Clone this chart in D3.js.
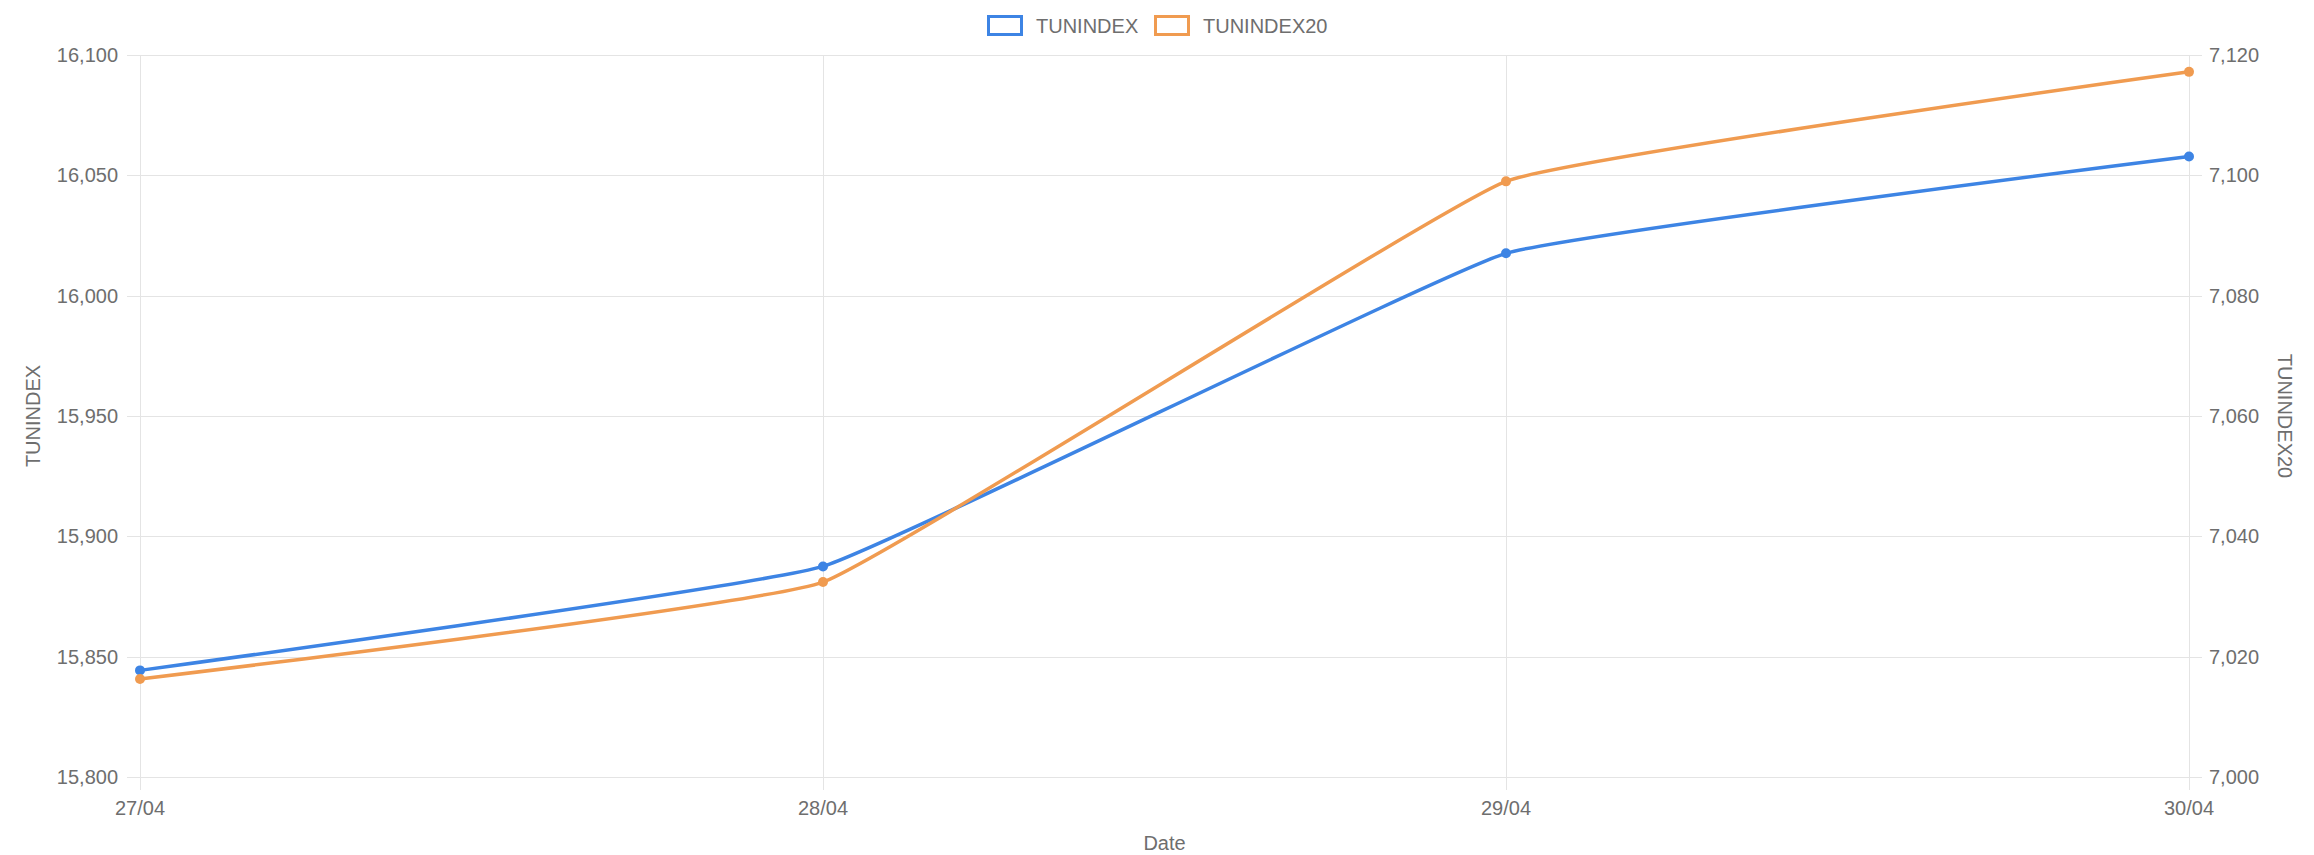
<!DOCTYPE html>
<html>
<head>
<meta charset="utf-8">
<script src="https://cdn.jsdelivr.net/npm/d3@7"></script>
<style>
	body { margin: 0; background: #fff; }
	svg { display: block; font-family: "Liberation Sans", Arial, sans-serif; }
</style>
</head>
<body>
<div id="chart"></div>
<script>
/* dual axis line chart, TUNINDEX vs TUNINDEX20 */

const dates = ["27/04", "28/04", "29/04", "30/04"]
const tunindex = [15844.3, 15887.5, 16017.6, 16057.8]
const tunindex20 = [7016.3, 7032.4, 7099.0, 7117.2]
const leftTicks = [15800, 15850, 15900, 15950, 16000, 16050, 16100]
const rightTicks = [7000, 7020, 7040, 7060, 7080, 7100, 7120]

const width = 2314, height = 855
const margin = {top: 55, right: 125, bottom: 78, left: 140}
const blue = "#3d84e4", orange = "#f09b50"
const grid = "#e4e4e4", txt = "#6e6e6e"

let svg = d3.select("#chart").append("svg")
	.attr("width", width)
	.attr("height", height)

let x = d3.scalePoint()
	.domain(dates)
	.range([margin.left, width - margin.right])

let yL = d3.scaleLinear()
	.domain([15800, 16100])
	.range([height - margin.bottom, margin.top])

let yR = d3.scaleLinear()
	.domain([7000, 7120])
	.range([height - margin.bottom, margin.top])

// grid
svg.append("g")
	.selectAll("line")
	.data(leftTicks)
	.join("line")
	.attr("x1", margin.left - 13)
	.attr("x2", width - margin.right)
	.attr("y1", d => Math.round(yL(d)) + 0.5)
	.attr("y2", d => Math.round(yL(d)) + 0.5)
	.attr("stroke", grid)

svg.append("g")
	.selectAll("line")
	.data(rightTicks)
	.join("line")
	.attr("x1", width - margin.right)
	.attr("x2", width - margin.right + 13)
	.attr("y1", d => Math.round(yR(d)) + 0.5)
	.attr("y2", d => Math.round(yR(d)) + 0.5)
	.attr("stroke", grid)

svg.append("g")
	.selectAll("line")
	.data(dates)
	.join("line")
	.attr("x1", d => Math.round(x(d)) + 0.5)
	.attr("x2", d => Math.round(x(d)) + 0.5)
	.attr("y1", margin.top)
	.attr("y2", height - margin.bottom + 13)
	.attr("stroke", grid)

// tick labels
svg.append("g")
	.selectAll("text")
	.data(leftTicks)
	.join("text")
	.attr("x", margin.left - 22)
	.attr("y", d => yL(d))
	.attr("dy", "0.35em")
	.attr("text-anchor", "end")
	.attr("fill", txt)
	.style("font-size", "20px")
	.text(d3.format(","))

svg.append("g")
	.selectAll("text")
	.data(rightTicks)
	.join("text")
	.attr("x", width - margin.right + 20)
	.attr("y", d => yR(d))
	.attr("dy", "0.35em")
	.attr("text-anchor", "start")
	.attr("fill", txt)
	.style("font-size", "20px")
	.text(d3.format(","))

svg.append("g")
	.selectAll("text")
	.data(dates)
	.join("text")
	.attr("x", d => x(d))
	.attr("y", height - margin.bottom + 31)
	.attr("dy", "0.35em")
	.attr("text-anchor", "middle")
	.attr("fill", txt)
	.style("font-size", "20px")
	.text(d => d)

// axis titles
svg.append("text")
	.attr("transform", `translate(33,${(margin.top + height - margin.bottom) / 2}) rotate(-90)`)
	.attr("dy", "0.35em")
	.attr("text-anchor", "middle")
	.attr("fill", txt)
	.style("font-size", "20px")
	.text("TUNINDEX")

svg.append("text")
	.attr("transform", `translate(2285,${(margin.top + height - margin.bottom) / 2}) rotate(90)`)
	.attr("dy", "0.35em")
	.attr("text-anchor", "middle")
	.attr("fill", txt)
	.style("font-size", "20px")
	.text("TUNINDEX20")

svg.append("text")
	.attr("x", (margin.left + width - margin.right) / 2)
	.attr("y", 843)
	.attr("dy", "0.35em")
	.attr("text-anchor", "middle")
	.attr("fill", txt)
	.style("font-size", "20px")
	.text("Date")

// lines
let series = [
	{name: "TUNINDEX", values: tunindex, y: yL, color: blue},
	{name: "TUNINDEX20", values: tunindex20, y: yR, color: orange}
]

series.forEach(s => {
	let line = d3.line()
		.x((d, i) => x(dates[i]))
		.y(d => s.y(d))
		.curve(d3.curveCardinal.tension(0.72))

	svg.append("path")
		.datum(s.values)
		.attr("fill", "none")
		.attr("stroke", s.color)
		.attr("stroke-width", 3.5)
		.attr("stroke-linejoin", "round")
		.attr("d", line)

	svg.append("g")
		.selectAll("circle")
		.data(s.values)
		.join("circle")
		.attr("cx", (d, i) => x(dates[i]))
		.attr("cy", d => s.y(d))
		.attr("r", 5)
		.attr("fill", s.color)
})

// legend
let legend = svg.append("g")
let lx = [987, 1154]
series.forEach((s, i) => {
	legend.append("rect")
		.attr("x", lx[i] + 1.5)
		.attr("y", 16.5)
		.attr("width", 33)
		.attr("height", 18)
		.attr("fill", "#fff")
		.attr("stroke", s.color)
		.attr("stroke-width", 3)
	legend.append("text")
		.attr("x", lx[i] + 49)
		.attr("y", 25.5)
		.attr("dy", "0.35em")
		.attr("fill", txt)
		.style("font-size", "20px")
		.text(s.name)
})
</script>
</body>
</html>
